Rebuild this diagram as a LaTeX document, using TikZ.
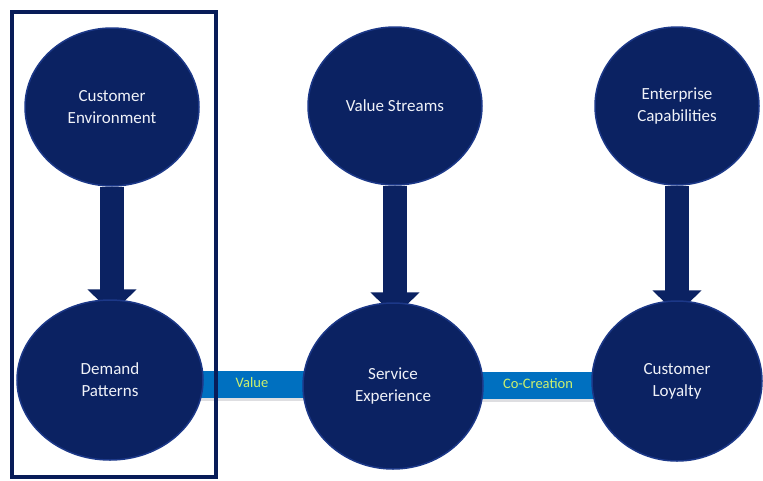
\documentclass[tikz,border=0pt]{standalone}
\usepackage{fontspec}
\setmainfont{Carlito}
\usetikzlibrary{shapes.geometric,arrows.meta,backgrounds}
\definecolor{navy}{RGB}{11,34,98}
\definecolor{navyedge}{RGB}{28,56,136}
\definecolor{barblue}{RGB}{0,112,192}
\definecolor{barshadow}{RGB}{200,200,205}
\definecolor{lime}{RGB}{204,240,110}
\definecolor{framecol}{RGB}{8,28,88}
\tikzset{
  bubble/.style={ellipse, fill=navy, draw=navyedge, line width=1.5pt, text={rgb,255:red,240;green,242;blue,248},
    align=center, inner sep=0pt, font=\fontsize{17}{22}\selectfont},
  flow/.style={draw=navy, line width=24pt, -{Triangle[width=48pt,length=24pt]}},
  bar/.style={draw=barblue, line width=27pt},
  barshade/.style={draw=barshadow, line width=27pt, opacity=0.6},
  barlabel/.style={text=lime, inner sep=0pt, font=\fontsize{14.5}{17}\selectfont},
  frame/.style={draw=framecol, line width=3.5pt}
}
\begin{document}
\begin{tikzpicture}[x=1pt,y=-1pt]
\useasboundingbox (0,0) rectangle (763,480);
% top row
\node[bubble, minimum width=174pt, minimum height=158pt] (ce) at (112,107) {Customer\\Environment};
\node[bubble, minimum width=174pt, minimum height=158pt] (vs) at (395,106) {Value Streams};
\node[bubble, minimum width=164pt, minimum height=158pt] (ec) at (677,106) {Enterprise\\Capabilities};
% bottom row
\node[bubble, minimum width=186pt, minimum height=160pt] (dp) at (110,380) {Demand\\Patterns};
\node[bubble, minimum width=180pt, minimum height=166pt] (se) at (393,386) {Service\\Experience};
\node[bubble, minimum width=170pt, minimum height=160pt] (cl) at (677,381) {Customer\\Loyalty};
\begin{pgfonlayer}{background}
  % horizontal bars
  \draw[barshade] ([yshift=-3pt]dp.center |- 0,384) -- ([yshift=-3pt]se.center |- 0,384);
  \draw[barshade] ([yshift=-3pt]se.center |- 0,385) -- ([yshift=-3pt]cl.center |- 0,385);
  \draw[bar] (dp.center |- 0,384) -- (se.center |- 0,384);
  \draw[bar] (se.center |- 0,385) -- (cl.center |- 0,385);
  % vertical arrows
  \draw[flow] (ce.south) -- ([yshift=-14pt]ce.south |- dp.north);
  \draw[flow] (vs.south) -- ([yshift=-14pt]vs.south |- se.north);
  \draw[flow] (ec.south) -- ([yshift=-14pt]ec.south |- cl.north);
\end{pgfonlayer}
\node[barlabel] (lv) at (252,383) {Value};
\node[barlabel] (lc) at (538,384) {Co-Creation};
% highlight frame
\draw[frame] (12,12) rectangle (216,477);
\end{tikzpicture}
\end{document}
